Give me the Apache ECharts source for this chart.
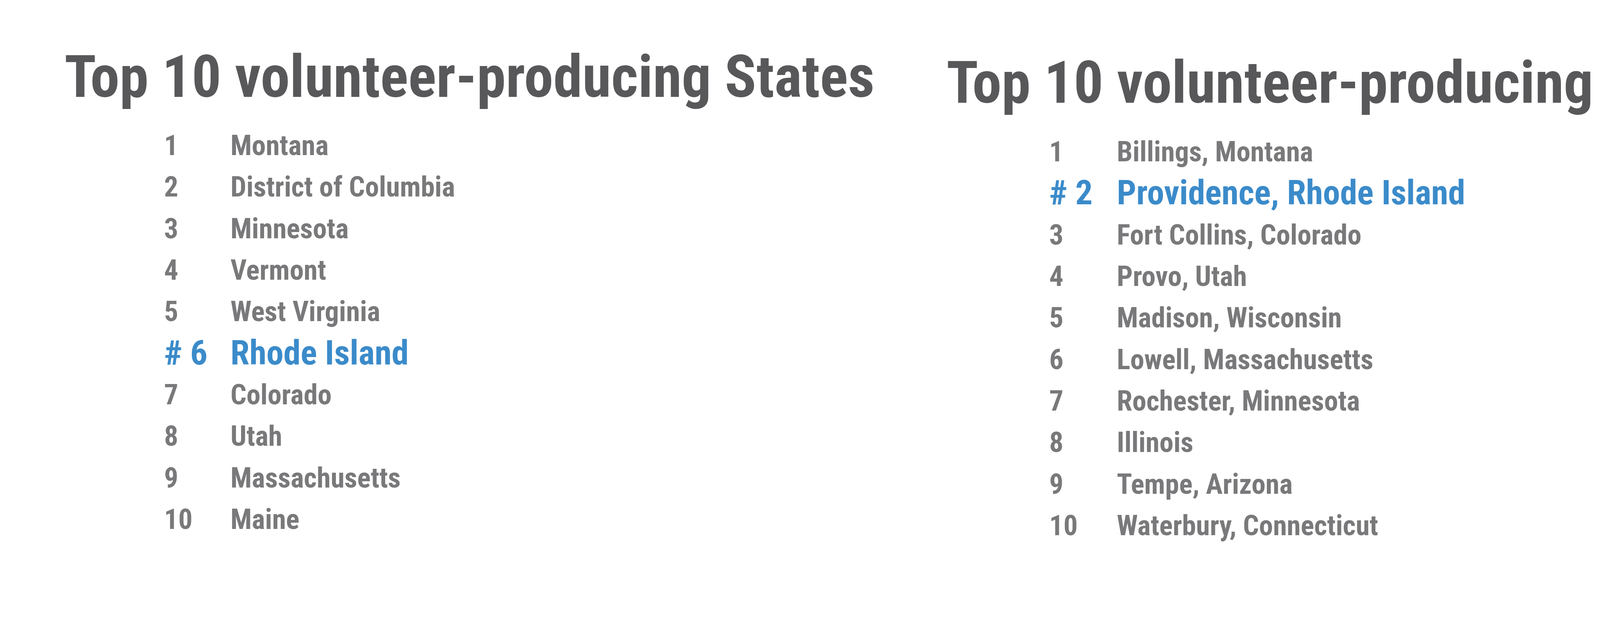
<!DOCTYPE html>
<html>
<head>
<meta charset="utf-8">
<script src="https://cdn.jsdelivr.net/npm/echarts@6/dist/echarts.min.js"></script>
<style>html,body{margin:0;padding:0;background:#fff}#main{width:5118px;height:1605px}</style>
</head>
<body>
<div id="main"></div>
<script>
var stateTitle = 'Top 10 volunteer-producing States';
var cityTitle = 'Top 10 volunteer-producing Mid-Size Cities';
var stateRanks = ['1', '2', '3', '4', '5', '6', '7', '8', '9', '10'];
var stateNames = ['Montana', 'District of Columbia', 'Minnesota', 'Vermont', 'West Virginia',
    'Rhode Island', 'Colorado', 'Utah', 'Massachusetts', 'Maine'];
var stateHighlight = 5;
var cityRanks = ['1', '2', '3', '4', '5', '6', '7', '8', '9', '10'];
var cityNames = ['Billings, Montana', 'Providence, Rhode Island', 'Fort Collins, Colorado', 'Provo, Utah',
    'Madison, Wisconsin', 'Lowell, Massachusetts', 'Rochester, Minnesota', 'Illinois',
    'Tempe, Arizona', 'Waterbury, Connecticut'];
var cityHighlight = 1;

window.onload = function() {
    var chartBox = document.getElementById('main'),
        myChart = echarts.init(chartBox),
        font = '"Liberation Sans Narrow", "Roboto Condensed", "Liberation Sans", sans-serif',
        grey = '#58585a',
        blue = '#0a6ebd';

    function rows(ranks, names, hi, col) {
        return ranks.map(function(r, i) {
            var text = col === 0 ? (i === hi ? '# ' + r : r) : names[i];
            return {
                value: [col, i],
                label: {
                    formatter: text,
                    color: i === hi ? blue : grey,
                    fontSize: i === hi ? 88 : 72
                }
            };
        });
    }

    function series(idx, ranks, names, hi) {
        return [0, 1].map(function(col) {
            return {
                type: 'scatter',
                xAxisIndex: idx,
                yAxisIndex: idx,
                symbolSize: 0,
                silent: true,
                label: {
                    show: true,
                    position: 'right',
                    distance: 0,
                    fontFamily: font,
                    fontWeight: 'bold'
                },
                data: rows(ranks, names, hi, col)
            };
        });
    }

    var cats = stateRanks.map(function(r, i) { return i; });

    var option = {
        backgroundColor: '#fff',
        title: [{
            text: stateTitle, left: 160, top: 130,
            textStyle: { fontFamily: font, fontWeight: 'bold', fontSize: 150, color: grey }
        }, {
            text: cityTitle, left: 2418, top: 145,
            textStyle: { fontFamily: font, fontWeight: 'bold', fontSize: 150, color: grey }
        }],
        grid: [
            { left: 420, width: 170, top: 326, height: 1063 },
            { left: 2686, width: 173, top: 342, height: 1063 }
        ],
        xAxis: [
            { gridIndex: 0, type: 'value', min: 0, max: 1, show: false },
            { gridIndex: 1, type: 'value', min: 0, max: 1, show: false }
        ],
        yAxis: [
            { gridIndex: 0, type: 'category', data: cats, inverse: true, show: false },
            { gridIndex: 1, type: 'category', data: cats, inverse: true, show: false }
        ],
        series: series(0, stateRanks, stateNames, stateHighlight)
            .concat(series(1, cityRanks, cityNames, cityHighlight))
    };

    myChart.setOption(option);
};
</script>
</body>
</html>
